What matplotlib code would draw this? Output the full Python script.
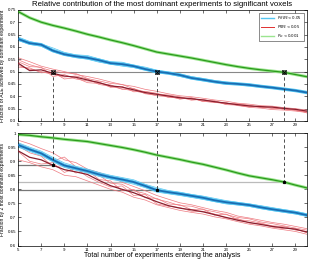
import numpy as np
import matplotlib
matplotlib.use('Agg')
import matplotlib.pyplot as plt

plt.rcParams['font.family'] = ['Liberation Sans', 'DejaVu Sans']

n_exp = np.arange(5, 31)

# top panel: fraction of ALE by the dominant experiment
top_green = [0.743, 0.718, 0.700, 0.687, 0.676, 0.664, 0.651, 0.640, 0.628, 0.617, 0.605, 0.592, 0.579,
             0.571, 0.563, 0.555, 0.546, 0.537, 0.528, 0.520, 0.513, 0.507, 0.502, 0.497, 0.488, 0.479]
top_blue = [0.632, 0.615, 0.609, 0.585, 0.570, 0.562, 0.556, 0.546, 0.534, 0.530, 0.522, 0.510, 0.500,
            0.494, 0.486, 0.474, 0.467, 0.459, 0.453, 0.450, 0.446, 0.440, 0.435, 0.429, 0.423, 0.415]
top_red = [0.534, 0.504, 0.507, 0.493, 0.482, 0.477, 0.466, 0.455, 0.442, 0.437, 0.426, 0.415, 0.408,
           0.401, 0.394, 0.390, 0.385, 0.378, 0.372, 0.366, 0.361, 0.358, 0.356, 0.351, 0.347, 0.340]
top_blue_runs = [
    [0.640, 0.622, 0.612, 0.596, 0.578, 0.568, 0.565, 0.552, 0.540, 0.538, 0.526, 0.518, 0.506,
     0.498, 0.490, 0.480, 0.472, 0.464, 0.458, 0.452, 0.450, 0.444, 0.438, 0.432, 0.426, 0.418],
    [0.626, 0.610, 0.602, 0.580, 0.566, 0.556, 0.550, 0.538, 0.530, 0.522, 0.516, 0.506, 0.494,
     0.490, 0.480, 0.470, 0.462, 0.455, 0.448, 0.446, 0.441, 0.436, 0.431, 0.426, 0.420, 0.412],
    [0.634, 0.618, 0.606, 0.590, 0.574, 0.560, 0.560, 0.544, 0.537, 0.528, 0.524, 0.512, 0.503,
     0.492, 0.488, 0.476, 0.465, 0.461, 0.451, 0.448, 0.447, 0.438, 0.436, 0.428, 0.424, 0.414],
]
top_red_runs = [
    [0.556, 0.540, 0.522, 0.510, 0.500, 0.488, 0.480, 0.470, 0.458, 0.447, 0.440, 0.428, 0.420,
     0.410, 0.402, 0.398, 0.392, 0.385, 0.380, 0.372, 0.368, 0.362, 0.360, 0.354, 0.350, 0.344],
    [0.548, 0.528, 0.515, 0.502, 0.495, 0.492, 0.472, 0.462, 0.452, 0.448, 0.430, 0.418, 0.410,
     0.405, 0.398, 0.388, 0.384, 0.380, 0.370, 0.368, 0.360, 0.356, 0.352, 0.349, 0.344, 0.338],
    [0.525, 0.510, 0.500, 0.488, 0.478, 0.482, 0.470, 0.448, 0.440, 0.430, 0.422, 0.412, 0.402,
     0.398, 0.390, 0.392, 0.380, 0.374, 0.374, 0.362, 0.357, 0.360, 0.350, 0.352, 0.342, 0.336],
    [0.540, 0.520, 0.518, 0.480, 0.488, 0.470, 0.462, 0.458, 0.436, 0.440, 0.418, 0.420, 0.412,
     0.395, 0.396, 0.384, 0.388, 0.376, 0.368, 0.370, 0.364, 0.354, 0.358, 0.346, 0.348, 0.332],
    [0.518, 0.515, 0.495, 0.498, 0.470, 0.475, 0.455, 0.452, 0.446, 0.428, 0.432, 0.410, 0.405,
     0.403, 0.388, 0.395, 0.378, 0.382, 0.366, 0.364, 0.355, 0.352, 0.346, 0.344, 0.340, 0.334],
]

# bottom panel: fraction by the 2 most dominant experiments
bot_green = [0.995, 0.992, 0.987, 0.983, 0.978, 0.974, 0.970, 0.963, 0.956, 0.949, 0.941, 0.932, 0.922,
             0.914, 0.906, 0.897, 0.889, 0.879, 0.869, 0.858, 0.848, 0.841, 0.834, 0.826, 0.815, 0.805]
bot_blue = [0.958, 0.942, 0.928, 0.905, 0.885, 0.875, 0.865, 0.853, 0.843, 0.835, 0.826, 0.812, 0.797,
            0.790, 0.784, 0.777, 0.770, 0.761, 0.754, 0.749, 0.744, 0.736, 0.729, 0.723, 0.717, 0.708]
bot_red = [0.937, 0.914, 0.905, 0.886, 0.870, 0.862, 0.853, 0.832, 0.813, 0.800, 0.788, 0.772, 0.756,
           0.742, 0.733, 0.727, 0.720, 0.710, 0.700, 0.690, 0.682, 0.675, 0.668, 0.663, 0.658, 0.648]
bot_blue_runs = [
    [0.966, 0.950, 0.936, 0.914, 0.894, 0.882, 0.872, 0.860, 0.850, 0.842, 0.834, 0.818, 0.806,
     0.796, 0.790, 0.782, 0.776, 0.768, 0.760, 0.754, 0.748, 0.742, 0.735, 0.728, 0.722, 0.713],
    [0.950, 0.935, 0.920, 0.898, 0.878, 0.868, 0.858, 0.846, 0.836, 0.828, 0.818, 0.806, 0.790,
     0.784, 0.778, 0.771, 0.764, 0.756, 0.748, 0.744, 0.739, 0.731, 0.724, 0.718, 0.712, 0.704],
    [0.960, 0.946, 0.924, 0.910, 0.888, 0.871, 0.868, 0.849, 0.846, 0.831, 0.829, 0.810, 0.800,
     0.788, 0.786, 0.775, 0.772, 0.758, 0.756, 0.746, 0.746, 0.734, 0.731, 0.721, 0.719, 0.706],
]
bot_red_runs = [
    [0.975, 0.962, 0.945, 0.930, 0.905, 0.895, 0.872, 0.860, 0.845, 0.825, 0.810, 0.795, 0.778,
     0.765, 0.752, 0.745, 0.735, 0.725, 0.718, 0.705, 0.698, 0.690, 0.682, 0.676, 0.668, 0.660],
    [0.965, 0.945, 0.925, 0.900, 0.915, 0.880, 0.860, 0.850, 0.822, 0.818, 0.795, 0.785, 0.765,
     0.755, 0.742, 0.740, 0.728, 0.720, 0.710, 0.700, 0.695, 0.684, 0.678, 0.670, 0.662, 0.655],
    [0.955, 0.930, 0.918, 0.880, 0.885, 0.858, 0.868, 0.835, 0.830, 0.795, 0.800, 0.770, 0.768,
     0.748, 0.745, 0.728, 0.730, 0.708, 0.712, 0.692, 0.688, 0.680, 0.670, 0.668, 0.655, 0.650],
    [0.935, 0.900, 0.890, 0.895, 0.860, 0.875, 0.845, 0.825, 0.808, 0.812, 0.778, 0.782, 0.748,
     0.740, 0.735, 0.722, 0.722, 0.712, 0.698, 0.696, 0.680, 0.678, 0.666, 0.660, 0.660, 0.645],
    [0.905, 0.895, 0.880, 0.870, 0.850, 0.845, 0.830, 0.815, 0.800, 0.790, 0.772, 0.762, 0.745,
     0.735, 0.725, 0.718, 0.712, 0.702, 0.695, 0.685, 0.676, 0.670, 0.662, 0.656, 0.650, 0.640],
]

# crossing points (n experiments where dominant experiment reaches 50 %)
cross_n = [8, 17, 28]
cross_top = [0.5, 0.5, 0.5]
cross_bot = [0.886, 0.797, 0.826]
cross_line_col = ['#777777', '#777777', '#bbbbbb']

c_blue, c_blue_l = '#1a6db3', '#55c6f2'
c_red, c_red_l = '#8a1f2e', '#ee7a80'
c_green, c_green_l = '#2b9a1c', '#9be58f'

fig = plt.figure(figsize=(3.12, 2.59), dpi=100)
ax1 = fig.add_axes([0.058, 0.533, 0.926, 0.429])
ax2 = fig.add_axes([0.058, 0.052, 0.926, 0.434])

def draw(ax, green, blue, red, blue_runs, red_runs):
    ax.plot(n_exp, green, color=c_green_l, lw=2.2, zorder=2)
    ax.plot(n_exp, green, color=c_green, lw=0.9, zorder=3)
    for r in red_runs:
        ax.plot(n_exp, r, color=c_red_l, lw=0.5, zorder=2)
    ax.plot(n_exp, red, color=c_red, lw=0.9, zorder=3)
    for r in blue_runs:
        ax.plot(n_exp, r, color=c_blue_l, lw=0.5, zorder=2)
    ax.plot(n_exp, blue, color=c_blue_l, lw=2.4, zorder=2)
    ax.plot(n_exp, blue, color=c_blue, lw=1.3, zorder=3)

draw(ax1, top_green, top_blue, top_red, top_blue_runs, top_red_runs)
draw(ax2, bot_green, bot_blue, bot_red, bot_blue_runs, bot_red_runs)

# top: 50 % line and drops
ax1.axhline(0.5, color='#888888', lw=0.8, zorder=1)
for xn, yv in zip(cross_n, cross_top):
    ax1.plot([xn, xn], [0.3, yv], color='#333333', lw=0.6, ls=(0, (4, 3)), zorder=4)
    ax1.plot(xn, yv, marker='x', color='k', ms=2.4, mew=0.7, zorder=5)
    ax1.plot(xn, yv, marker='s', mfc='none', mec='k', ms=2.4, mew=0.4, zorder=5)

# bottom: values at the crossings
for xn, yv, lc in zip(cross_n, cross_bot, cross_line_col):
    ax2.plot([5, xn], [yv, yv], color=lc, lw=0.9, zorder=1)
    ax2.plot([xn, xn], [1.0, yv], color='#333333', lw=0.6, ls=(0, (4, 3)), zorder=4)
    ax2.plot(xn, yv, marker='s', color='k', ms=1.3, zorder=5)

for ax, lo, hi, step in [(ax1, 0.3, 0.75, 0.05), (ax2, 0.6, 1.0, 0.05)]:
    ax.set_xlim(5, 30)
    ax.set_ylim(lo, hi)
    ax.set_xticks(np.arange(5, 30, 2))
    yt = np.round(np.arange(lo, hi + 0.001, step), 2)
    ax.set_yticks(yt)
    ax.set_yticklabels(['%g' % v for v in yt])
    ax.tick_params(direction='in', top=True, right=True, labelsize=3.2, length=2,
                   width=0.4, pad=1.5)
    for s in ax.spines.values():
        s.set_linewidth(0.5)

ax1.set_title('Relative contribution of the most dominant experiments to significant voxels',
              fontsize=5.6, pad=2.5)
ax1.set_ylabel('Fraction of ALE achieved by dominant experiment', fontsize=3.6, labelpad=1.5)
ax2.set_ylabel('Fraction by 2 most dominant experiments', fontsize=3.6, labelpad=1.5)
ax2.set_xlabel('Total number of experiments entering the analysis', fontsize=5.0, labelpad=0.3)

h = [plt.Line2D([], [], color=c_blue_l, lw=1),
     plt.Line2D([], [], color='#e03030', lw=0.7),
     plt.Line2D([], [], color=c_green_l, lw=1)]
leg = ax1.legend(h, [r'$P_{cFWE}<0.05$', r'$P_{FWE}<0.05$', r'$P_{vc}<0.001$'],
                 loc='upper right', fontsize=2.8, handlelength=3.5, frameon=True, fancybox=False,
                 edgecolor='k', borderpad=0.4, labelspacing=0.3, borderaxespad=0.8)
leg.get_frame().set_linewidth(0.4)

fig.savefig('out.png', dpi=100)
